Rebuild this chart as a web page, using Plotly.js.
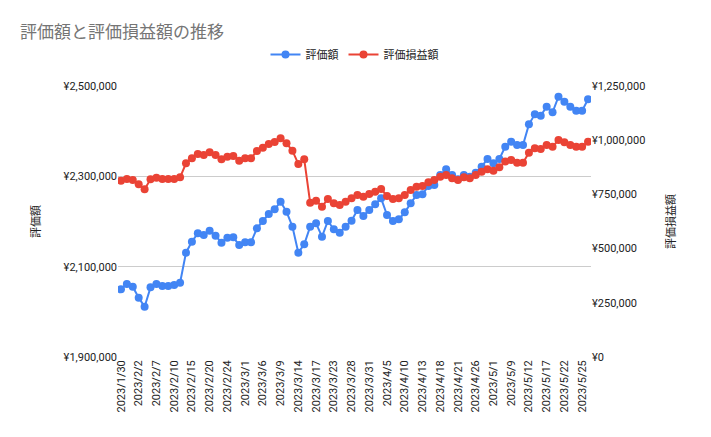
<!DOCTYPE html>
<html><head><meta charset="utf-8">
<script src="https://cdn.plot.ly/plotly-3.0.1.min.js"></script>
<style>body{margin:0}#plot{width:711px;height:437px}</style>
</head><body><div id="plot"></div>
<script>
var dates = ["2023/1/30","2023/1/31","2023/2/1","2023/2/2","2023/2/3","2023/2/6","2023/2/7","2023/2/8","2023/2/9","2023/2/10",
  "2023/2/13","2023/2/14","2023/2/15","2023/2/16","2023/2/17","2023/2/20","2023/2/21","2023/2/22","2023/2/24","2023/2/27",
  "2023/2/28","2023/3/1","2023/3/2","2023/3/3","2023/3/6","2023/3/7","2023/3/8","2023/3/9","2023/3/10","2023/3/13",
  "2023/3/14","2023/3/15","2023/3/16","2023/3/17","2023/3/20","2023/3/22","2023/3/23","2023/3/24","2023/3/27","2023/3/28",
  "2023/3/29","2023/3/30","2023/3/31","2023/4/3","2023/4/4","2023/4/5","2023/4/6","2023/4/7","2023/4/10","2023/4/11",
  "2023/4/12","2023/4/13","2023/4/14","2023/4/17","2023/4/18","2023/4/19","2023/4/20","2023/4/21","2023/4/24","2023/4/25",
  "2023/4/26","2023/4/27","2023/4/28","2023/5/1","2023/5/2","2023/5/8","2023/5/9","2023/5/10","2023/5/11","2023/5/12",
  "2023/5/15","2023/5/16","2023/5/17","2023/5/18","2023/5/19","2023/5/22","2023/5/23","2023/5/24","2023/5/25","2023/5/26"];

var valuation = [2049800,2061600,2055700,2031400,2011400,2054200,2061600,2057200,2057200,2059400,
  2064600,2131000,2155400,2173800,2170100,2179700,2168700,2153200,2164200,2164900,
  2148000,2153900,2153900,2184900,2201100,2216600,2226900,2243900,2221800,2188600,
  2131000,2149500,2188600,2195900,2166400,2201100,2182700,2175300,2188600,2201800,
  2225500,2212200,2225500,2238000,2251300,2214400,2201100,2204800,2220300,2240200,
  2258700,2260200,2278600,2280800,2302900,2315500,2302900,2293300,2302900,2299200,
  2308100,2321400,2338400,2328800,2338400,2365700,2376700,2369400,2369400,2415100,
  2437200,2434300,2454200,2441700,2476400,2465300,2454200,2445400,2445400,2470500];

var gainLoss = [813400,821100,816500,796500,773400,819600,827300,821100,821100,821100,
  828800,893400,916400,936400,931800,944100,931800,911800,924100,927200,
  905700,916400,916400,950300,965700,982600,991800,1008700,985700,951800,
  890300,911800,712000,721200,693500,728900,708900,701200,716600,731900,
  747300,739600,751900,762600,775000,742700,728900,731900,747300,770400,
  785800,788800,805700,816500,831900,839600,824200,816500,828800,824200,
  839600,855000,865700,859600,875000,901200,908800,896500,896500,942600,
  962600,959500,978000,970300,1001000,990300,978000,970300,970300,993300];

var leftTicks = [1900000,2100000,2300000,2500000];
var rightTicks = [0,250000,500000,750000,1000000,1250000];

var tickDates = dates.filter(function(d, i){ return i % 3 === 0; });

function yen(v){ return "¥" + v.toLocaleString("en-US"); }

var data = [
  {x: dates, y: valuation, name: "評価額", type: "scatter", mode: "lines+markers",
   line: {color: "#4285F4", width: 2}, marker: {color: "#4285F4", size: 8}},
  {x: dates, y: gainLoss, name: "評価損益額", type: "scatter", mode: "lines+markers", yaxis: "y2",
   line: {color: "#EA4335", width: 2}, marker: {color: "#EA4335", size: 8}}
];

var layout = {
  width: 711, height: 437,
  margin: {l: 118, r: 120, t: 86, b: 80},
  font: {family: "Roboto, 'Noto Sans CJK JP', sans-serif", size: 11, color: "#222"},
  title: {text: "評価額と評価損益額の推移", x: 0.028, xanchor: "left", y: 0.94,
          font: {size: 17, color: "#757575"}},
  showlegend: true,
  legend: {orientation: "h", x: 0.5, xanchor: "center", y: 1.17, font: {size: 11}},
  xaxis: {type: "category", tickvals: tickDates, ticktext: tickDates, tickangle: -90,
          showgrid: false, showline: false, zeroline: false, range: [-0.5, dates.length - 0.5]},
  yaxis: {range: [1900000, 2500000], tickvals: leftTicks, ticktext: leftTicks.map(yen),
          gridcolor: "#cccccc", zeroline: false, automargin: false,
          title: {text: "評価額", font: {size: 11}, standoff: 20}},
  yaxis2: {range: [0, 1250000], tickvals: rightTicks, ticktext: rightTicks.map(yen),
           overlaying: "y", side: "right", showgrid: false, zeroline: false, automargin: false,
           title: {text: "評価損益額", font: {size: 11}, standoff: 22}},
  plot_bgcolor: "#fff", paper_bgcolor: "#fff"
};

Plotly.newPlot("plot", data, layout, {displayModeBar: false});
</script>
</body></html>
